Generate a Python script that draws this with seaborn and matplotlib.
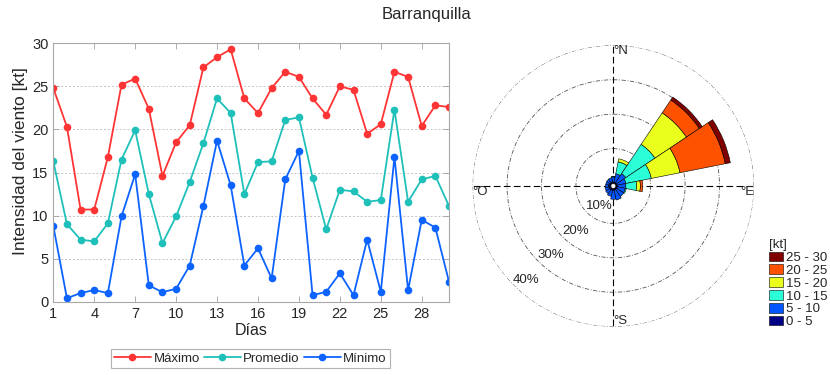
import numpy as np
import pandas as pd
import matplotlib
matplotlib.use("Agg")
import matplotlib.pyplot as plt
from matplotlib.patches import Patch
import seaborn as sns

# ---- daily wind speed (kt), Barranquilla ----
dias = list(range(1, 31))
maximo = [24.8, 20.3, 10.7, 10.7, 16.8, 25.2, 25.9, 22.4, 14.6, 18.5,
          20.5, 27.2, 28.4, 29.3, 23.6, 21.9, 24.8, 26.7, 26.1, 23.6,
          21.7, 25.0, 24.6, 19.5, 20.6, 26.7, 26.1, 20.4, 22.8, 22.6]
promedio = [16.3, 9.0, 7.2, 7.0, 9.1, 16.5, 19.9, 12.5, 6.8, 9.9,
            13.9, 18.4, 23.6, 21.9, 12.5, 16.2, 16.3, 21.1, 21.4, 14.4,
            8.4, 13.0, 12.8, 11.6, 11.8, 22.3, 11.6, 14.2, 14.6, 11.1]
minimo = [8.8, 0.4, 1.0, 1.35, 1.0, 9.9, 14.8, 1.9, 1.1, 1.5,
          4.2, 11.1, 18.7, 13.5, 4.2, 6.2, 2.7, 14.2, 17.5, 0.75,
          1.15, 3.3, 0.75, 7.2, 1.15, 16.8, 1.35, 9.5, 8.6, 2.3]
series = ["Máximo", "Promedio", "Mínimo"]
colores_series = ["#ff3535", "#1fc0b9", "#0d63ff"]
xticks = [1, 4, 7, 10, 13, 16, 19, 22, 25, 28]
yticks = [0, 5, 10, 15, 20, 25, 30]

# ---- wind rose: frequency (%) per direction and speed class ----
direcciones = ["N", "NNE", "NE", "ENE", "E", "ESE", "SE", "SSE",
               "S", "SSW", "SW", "WSW", "W", "WNW", "NW", "NNW"]
rumbos = np.arange(16) * 22.5
clases = ["0 - 5", "5 - 10", "10 - 15", "15 - 20", "20 - 25", "25 - 30"]
frec_0_5 = [0.3, 0.3, 0.3, 0.3, 0.3, 0.3, 0.3, 0.3, 0.4, 0.4, 0.5, 0.5, 0.6, 0.5, 0.4, 0.3]
frec_5_10 = [1.5, 2.5, 3.2, 2.6, 2.5, 2.4, 2.5, 3.0, 2.6, 1.8, 1.3, 1.1, 0.8, 0.9, 1.1, 1.3]
frec_10_15 = [0.2, 3.5, 10.2, 7.5, 3.1, 0.3, 0, 0, 0, 0, 0, 0, 0, 0, 0, 0]
frec_15_20 = [0, 0.9, 11.0, 8.5, 1.1, 0, 0, 0, 0, 0, 0, 0, 0, 0, 0, 0]
frec_20_25 = [0, 0, 4.5, 13.4, 0.7, 0, 0, 0, 0, 0, 0, 0, 0, 0, 0, 0]
frec_25_30 = [0, 0, 1.0, 1.5, 0, 0, 0, 0, 0, 0, 0, 0, 0, 0, 0, 0]
colores_clases = ["#000086", "#0055ff", "#2affd8", "#eaff1c", "#ff5200", "#800000"]
anillos = [10, 20, 30, 40]

sns.set_theme(style="white")
plt.rcParams["font.family"] = ["Liberation Sans", "DejaVu Sans"]
plt.rcParams["text.color"] = "#262626"

fig = plt.figure(figsize=(8.3, 3.75), dpi=100)
fig.text(0.514, 0.96, "Barranquilla", ha="center", va="center",
         fontsize=12, color="#262626")

# ---------------- line chart ----------------
ax = fig.add_axes([0.0642, 0.1955, 0.4768, 0.689])
df = pd.DataFrame({
    "Día": dias * 3,
    "Intensidad": maximo + promedio + minimo,
    "Serie": [s for s in series for _ in dias],
})
sns.lineplot(data=df, x="Día", y="Intensidad", hue="Serie", hue_order=series,
             palette=colores_series, marker="o", markersize=5.5,
             markeredgewidth=0, linewidth=1.3, legend=False, ax=ax)
ax.set_xlim(1, 30)
ax.set_ylim(0, 30)
ax.set_xticks(xticks)
ax.set_yticks(yticks)
ax.yaxis.grid(True, linestyle=(0, (2, 2)), color="#c4c4c4", linewidth=0.7)
ax.xaxis.grid(False)
ax.tick_params(direction="in", length=4, width=0.6, colors="#a0a0a0",
               labelcolor="#262626", labelsize=10.5, top=True, right=True,
               bottom=True, left=True)
for sp in ax.spines.values():
    sp.set_color("#a8a8a8")
    sp.set_linewidth(0.8)
ax.set_xlabel("Días", fontsize=11.5, color="#262626", labelpad=2)
ax.set_ylabel("Intensidad del viento [kt]", fontsize=12.5, color="#262626")
ax.yaxis.set_label_coords(-0.064, 0.543)
leg = ax.legend(handles=ax.lines[:3], labels=series, loc="upper center",
                bbox_to_anchor=(0.498, -0.185), ncol=3, frameon=True,
                fancybox=False, edgecolor="#a0a0a0", fontsize=9.5,
                handlelength=2.8, handletextpad=0.2, columnspacing=0.3,
                borderpad=0.25, borderaxespad=0)
leg.get_frame().set_linewidth(0.8)

# ---------------- wind rose ----------------
R_PX = 140.7
pax = fig.add_axes([(613.3 - R_PX) / 830, 1 - (186 + R_PX) / 375,
                    2 * R_PX / 830, 2 * R_PX / 375], projection="polar")
pax.set_theta_zero_location("N")
pax.set_theta_direction(-1)
pax.set_ylim(0, 40)
pax.set_rorigin(-0.85)
pax.grid(False)
pax.set_xticks([])
pax.set_yticks([])
pax.spines["polar"].set_visible(False)
pax.patch.set_alpha(0)

theta = np.deg2rad(rumbos)
ancho = np.deg2rad(22.5)
base = np.zeros(16)
for frec, col in zip([frec_0_5, frec_5_10, frec_10_15, frec_15_20, frec_20_25, frec_25_30],
                     colores_clases):
    frec = np.asarray(frec, dtype=float)
    mask = frec > 0
    pax.bar(theta[mask], frec[mask], width=ancho, bottom=base[mask], color=col,
            edgecolor="black", linewidth=0.4, zorder=3)
    base = base + frec

# rings and cross axes
t = np.linspace(0, 2 * np.pi, 361)
for r in anillos:
    pax.plot(t, np.full_like(t, r), color="#555555", linewidth=0.6,
             linestyle=(0, (5, 2, 1, 2)), zorder=2)
for ang in [0, 90]:
    a = np.deg2rad(ang)
    pax.plot([a, a], [0, 40], color="black", linewidth=0.8,
             linestyle=(0, (6, 3)), zorder=2)
    pax.plot([a + np.pi, a + np.pi], [0, 40], color="black", linewidth=0.8,
             linestyle=(0, (6, 3)), zorder=2)

for r, b in zip(anillos, [215, 220, 222, 223]):
    pax.text(np.deg2rad(b), r - 3.7, f"{r}%", ha="center", va="center",
             fontsize=9.5, color="#262626", zorder=4)

pax.text(0, 40, "°N", ha="left", va="top", fontsize=9.5, zorder=4)
pax.text(np.pi / 2, 40, "°E", ha="right", va="top", fontsize=9.5, zorder=4)
pax.text(np.pi, 40, "°S", ha="left", va="bottom", fontsize=9.5, zorder=4)
pax.text(3 * np.pi / 2, 40, "°O", ha="left", va="top", fontsize=9.5, zorder=4)

handles = [Patch(facecolor=c, edgecolor="black", linewidth=0.4)
           for c in colores_clases[::-1]]
fig.legend(handles=handles, labels=clases[::-1], title="[kt]", loc="upper left",
           bbox_to_anchor=(0.927, 0.362), frameon=False, fontsize=9.5,
           title_fontsize=9.5, alignment="left", handlelength=1.0,
           handleheight=0.75, handletextpad=0.25, labelspacing=0.03,
           borderpad=0, borderaxespad=0)

fig.savefig("out.png", dpi=100)
